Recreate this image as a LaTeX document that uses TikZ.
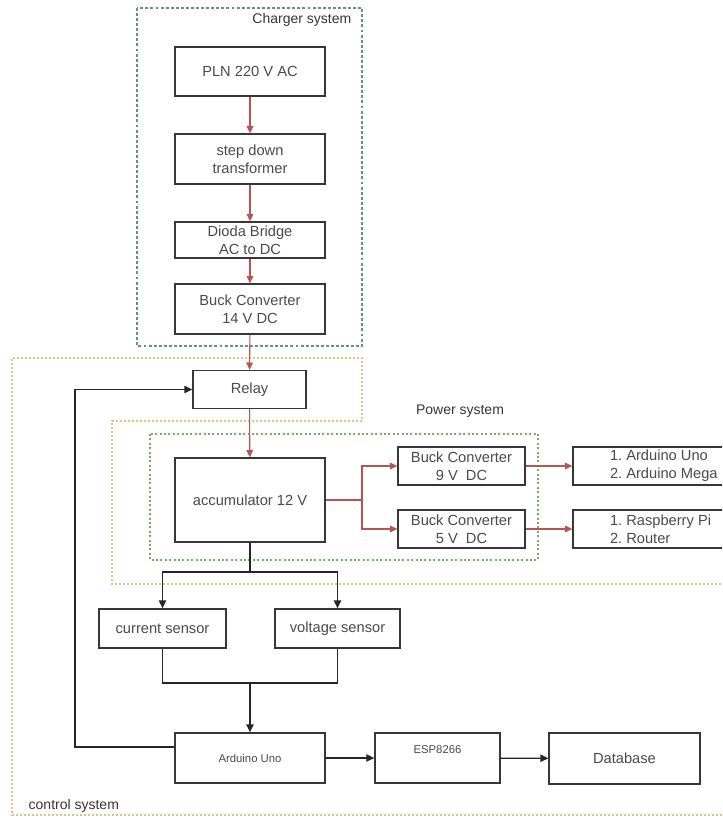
\documentclass[tikz,border=0pt]{standalone}
\usepackage{fontspec}
\setmainfont{Liberation Sans}
\usetikzlibrary{arrows.meta}

\definecolor{chargerblue}{RGB}{95,140,175}
\definecolor{controlorange}{RGB}{238,190,125}
\definecolor{powergreen}{RGB}{120,175,95}
\definecolor{flowred}{RGB}{184,84,80}
\definecolor{boxgray}{RGB}{55,55,55}

\newdimen\pxunit
\pxunit=0.75pt
\frenchspacing

\tikzset{
	block/.style={draw=boxgray, line width=1pt, fill=white, align=center,
		font=\fontsize{11}{13.5}\selectfont, text=boxgray!90, inner sep=2pt},
	smalltext/.style={font=\fontsize{8.5}{10}\selectfont},
	wh/.style 2 args={minimum width=#1\pxunit, minimum height=#2\pxunit},
	powerline/.style={draw=flowred, line width=0.8pt,
		-{Triangle[length=5.5pt,width=5pt]}},
	signalline/.style={draw=black!85, line width=1pt,
		-{Triangle[length=6pt,width=5.5pt]}},
	plainline/.style={draw=black!85, line width=1pt},
	grouplabel/.style={font=\fontsize{10.5}{12}\selectfont, text=boxgray},
	chargerframe/.style={draw=chargerblue, line width=0.9pt, dash pattern=on 2.2pt off 1.6pt},
	controlframe/.style={draw=controlorange, line width=0.9pt, dash pattern=on 1.5pt off 1.5pt},
	powerframe/.style={draw=powergreen, line width=0.9pt, dash pattern=on 1.5pt off 1.8pt}
}

\begin{document}
\begin{tikzpicture}[x=0.75pt, y=-0.75pt]
	\clip (0,0) rectangle (722,820);
	\fill[white] (0,0) rectangle (722,820);
	
	% group frames
	\draw[chargerframe] (137,8) rectangle (362,346);
	\draw[controlframe] (730,815) -- (12,815) -- (12,358) -- (362,358) -- (362,421)
		-- (112,421) -- (112,584) -- (730,584);
	\draw[powerframe] (150,434) rectangle (538,560);
	
	\node[grouplabel, anchor=east] (chargerlbl) at (356,20) {Charger system};
	\node[grouplabel] (powerlbl) at (460,411) {Power system};
	\node[grouplabel, anchor=west] (controllbl) at (24,806) {control system};
	
	% charger chain
	\node[block, wh={150}{49}] (pln) at (250,71.5) {PLN 220 V AC};
	\node[block, wh={150}{50}] (trafo) at (250,159) {step down\\transformer};
	\node[block, wh={150}{36}] (bridge) at (250,240) {Dioda Bridge\\AC to DC};
	\node[block, wh={150}{50}] (buck14) at (250,309) {Buck Converter\\14 V DC};
	
	% power side
	\node[block, wh={113}{38}] (relay) at (249.5,389.5) {Relay};
	\node[block, wh={150}{84}] (accu) at (250,500) {accumulator 12 V};
	\node[block, wh={127}{38}] (buck9) at (461.5,466) {Buck Converter\\9 V~~DC};
	\node[block, wh={127}{38}] (buck5) at (461.5,529) {Buck Converter\\5 V~~DC};
	\node[block, wh={182}{38}, align=left] (loadmcu) at (664,466)
		{\parbox{108\pxunit}{1. Arduino Uno\\2. Arduino Mega}};
	\node[block, wh={182}{38}, align=left] (loadnet) at (664,529)
		{\parbox{108\pxunit}{1. Raspberry Pi\\2. Router}};
	
	% control side
	\node[block, wh={127}{39}] (cursens) at (162.5,628.5) {current sensor};
	\node[block, wh={125}{39}] (volsens) at (337.5,628.5) {voltage sensor};
	\node[block, smalltext, wh={150}{50}] (uno) at (250,758) {Arduino Uno};
	\node[block, smalltext, wh={125}{50}, text depth=12pt] (esp) at (437.5,758) {ESP8266};
	\node[block, wh={151}{51}] (db) at (624.5,758.5) {Database};
	
	\coordinate (split) at (362,500);
	\coordinate (fork) at (250,572);
	\coordinate (join) at (250,683);
	\coordinate (back) at (75,747);
	
	% charging flow
	\draw[powerline] (pln) -- (trafo);
	\draw[powerline] (trafo) -- (bridge);
	\draw[powerline] (bridge) -- (buck14);
	\draw[powerline] (buck14) -- (relay);
	\draw[powerline] (relay) -- (accu);
	\draw[powerline] (accu.east) -- (split) |- (buck9.west);
	\draw[powerline] (split) |- (buck5.west);
	\draw[powerline] (buck9) -- (loadmcu);
	\draw[powerline] (buck5) -- (loadnet);
	
	% measuring and control
	\draw[plainline] (accu.south) -- (fork);
	\draw[signalline] (fork) -| (cursens.north);
	\draw[signalline] (fork) -| (volsens.north);
	\draw[plainline] (cursens.south) |- (join) -| (volsens.south);
	\draw[signalline] (join) -- (uno.north);
	\draw[signalline] (uno.west |- back) -- (back) |- (relay.west);
	\draw[signalline] (uno) -- (esp);
	\draw[signalline] (esp) -- (db);
\end{tikzpicture}
\end{document}
